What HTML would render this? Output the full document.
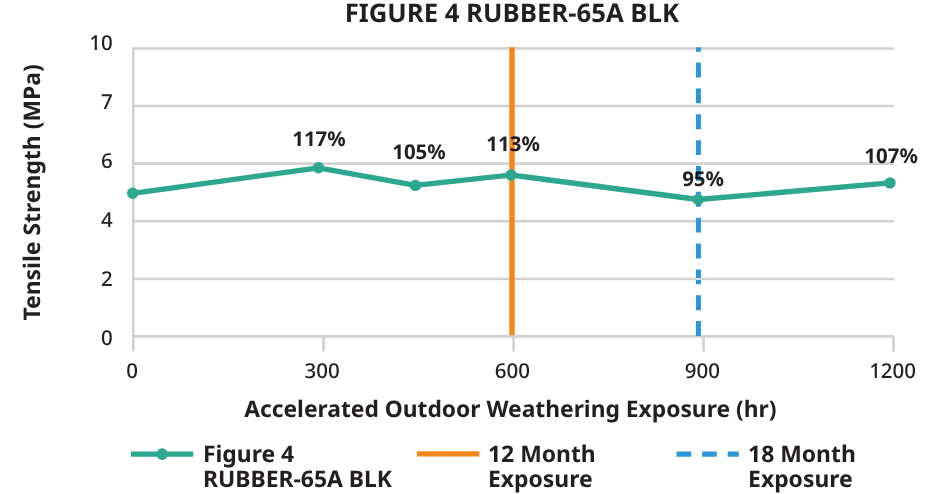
<!DOCTYPE html>
<html>
<head>
<meta charset="utf-8">
<style>
html,body{margin:0;padding:0;background:#fff;width:940px;height:494px;overflow:hidden}
svg{display:block;will-change:transform}
text{text-rendering:geometricPrecision;font-family:"Noto Sans","Open Sans","Liberation Sans",sans-serif;font-feature-settings:"salt";fill:#231f20}
.b{font-weight:700}
.r{font-weight:500}
</style>
</head>
<body>
<svg width="940" height="494" viewBox="0 0 940 494">
  <!-- title -->
  <text class="b" x="511.9" y="22" font-size="25.68" text-anchor="middle" style="font-family:'Open Sans','Noto Sans','Liberation Sans',sans-serif">FIGURE 4 RUBBER-65A BLK</text>

  <!-- gridlines -->
  <g stroke="#d1d1d1" stroke-width="2.6" fill="none">
    <line x1="132" y1="48.5" x2="894" y2="48.5"/>
    <line x1="132" y1="106" x2="894" y2="106"/>
    <line x1="132" y1="163.6" x2="894" y2="163.6"/>
    <line x1="132" y1="221.2" x2="894" y2="221.2"/>
    <line x1="132" y1="279" x2="894" y2="279"/>
    <line x1="132" y1="336.4" x2="894" y2="336.4"/>
    <!-- y axis -->
    <line x1="133.2" y1="47.2" x2="133.2" y2="351.6"/>
    <!-- x ticks -->
    <line x1="323.5" y1="336.4" x2="323.5" y2="351.6"/>
    <line x1="513.6" y1="336.4" x2="513.6" y2="351.6"/>
    <line x1="703.6" y1="336.4" x2="703.6" y2="351.6"/>
    <line x1="893.5" y1="336.4" x2="893.5" y2="351.6"/>
  </g>

  <!-- y labels -->
  <g class="r" font-size="20.5" text-anchor="end">
    <text class="r" x="112.7" y="50">10</text>
    <text class="r" x="112.7" y="108.8">7</text>
    <text class="r" x="112.7" y="167.8">6</text>
    <text class="r" x="112.7" y="227">4</text>
    <text class="r" x="112.7" y="285.9">2</text>
    <text class="r" x="112.7" y="345.2">0</text>
  </g>

  <!-- x labels -->
  <g font-size="20.5" text-anchor="middle">
    <text class="r" x="132" y="378">0</text>
    <text class="r" x="322.2" y="378">300</text>
    <text class="r" x="512.4" y="378">600</text>
    <text class="r" x="702.4" y="378">900</text>
    <text class="r" x="892.6" y="378">1200</text>
  </g>

  <!-- axis titles -->
  <text class="b" x="510.3" y="416.7" font-size="22.8" text-anchor="middle">Accelerated Outdoor Weathering Exposure (hr)</text>
  <text class="b" transform="translate(39.9,192.4) rotate(-90)" font-size="22.93" text-anchor="middle">Tensile Strength (MPa)</text>

  <!-- 12 month line -->
  <line x1="512" y1="47.2" x2="512" y2="335.2" stroke="#f7861f" stroke-width="5.4"/>
  <!-- 18 month dashed -->
  <line x1="698.45" y1="336" x2="698.45" y2="47.2" stroke="#2c97d8" stroke-width="5" stroke-dasharray="14.9 10.95"/>

  <rect x="695.95" y="278.1" width="5" height="1.8" fill="#e0edf4"/>

  <!-- data line -->
  <polyline points="132.7,193.3 318.5,167.8 415.4,185.4 511.1,175 698.2,199.5 890,182.9" fill="none" stroke="#2ea790" stroke-width="5.3" stroke-linejoin="round"/>
  <g fill="#2ea790">
    <circle cx="132.7" cy="193.3" r="5.7"/>
    <circle cx="318.5" cy="167.8" r="5.7"/>
    <circle cx="415.4" cy="185.4" r="5.7"/>
    <circle cx="511.1" cy="175" r="5.7"/>
    <circle cx="698.2" cy="199.5" r="5.7"/>
    <circle cx="890" cy="182.9" r="5.7"/>
  </g>

  <!-- data labels -->
  <g font-size="20.45" text-anchor="middle">
    <text class="b" x="319" y="145.8">117%</text>
    <text class="b" x="419" y="159">105%</text>
    <text class="b" x="513.1" y="151.2" style="mix-blend-mode:multiply">113%</text>
    <text class="b" x="703.1" y="185.8" style="mix-blend-mode:multiply">95%</text>
    <text class="b" x="891.1" y="162.7">107%</text>
  </g>

  <!-- legend -->
  <line x1="130.9" y1="454.1" x2="193.2" y2="454.1" stroke="#2ea790" stroke-width="5.3"/>
  <circle cx="162.1" cy="454.1" r="5.8" fill="#2ea790"/>
  <text class="b" x="202.9" y="461.9" font-size="22.9">Figure 4</text>
  <text class="b" x="202.9" y="486.6" font-size="22.9">RUBBER-65A BLK</text>

  <line x1="416.9" y1="453.9" x2="479.3" y2="453.9" stroke="#f7861f" stroke-width="5.4"/>
  <text class="b" x="488" y="461.9" font-size="22.9">12 Month</text>
  <text class="b" x="488" y="486.6" font-size="22.9">Exposure</text>

  <line x1="676.5" y1="454.1" x2="738.8" y2="454.1" stroke="#2c97d8" stroke-width="5.4" stroke-dasharray="14.7 10.9"/>
  <text class="b" x="748.1" y="461.9" font-size="22.9">18 Month</text>
  <text class="b" x="748.1" y="486.6" font-size="22.9">Exposure</text>
</svg>
</body>
</html>
